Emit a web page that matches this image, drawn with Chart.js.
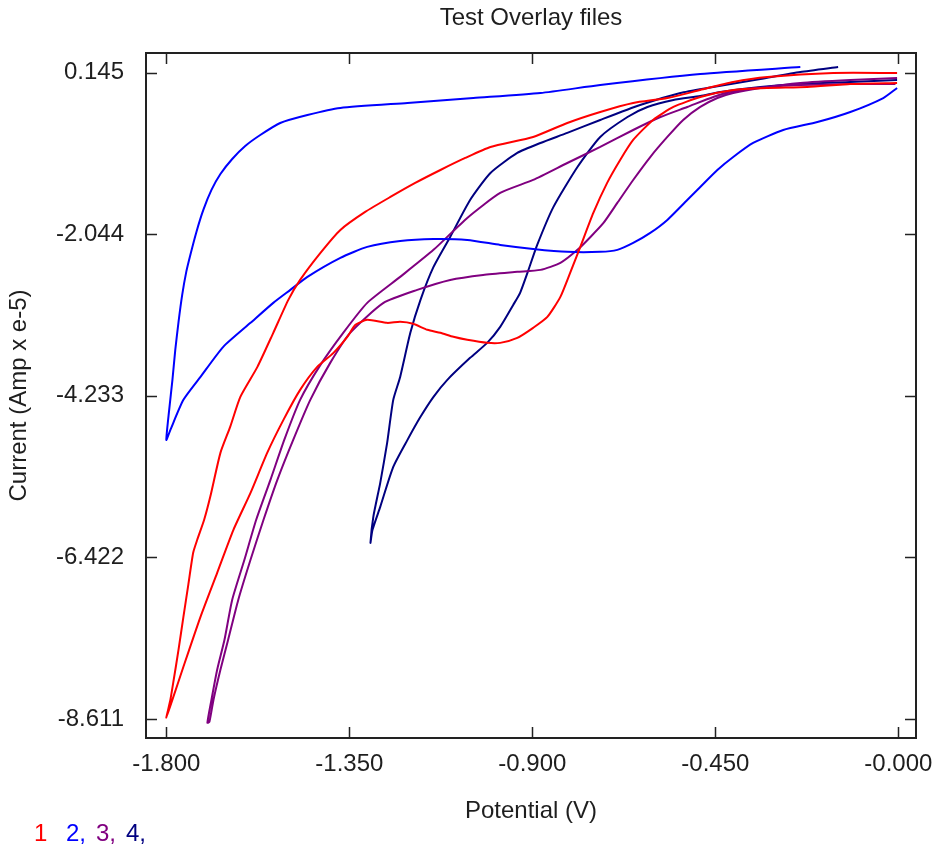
<!DOCTYPE html>
<html>
<head>
<meta charset="utf-8">
<script src="https://cdn.jsdelivr.net/npm/chart.js@4.4.0/dist/chart.umd.min.js"></script>
<style>
html, body { margin: 0; padding: 0; background: #ffffff; }
canvas { display: block; }
</style>
</head>
<body>
<canvas id="c" width="932" height="852"></canvas>
<script>
// ---------- texts ----------
const chartTitle = 'Test Overlay files';
const xAxisTitle = 'Potential (V)';
const yAxisTitle = 'Current (Amp x e-5)';
const seriesNames = ['1', '2,', '3,', '4,'];
const seriesColors = ['#ff0000', '#0000ff', '#800080', '#000080'];

// ---------- axes ----------
const xTickValues = [-1.8, -1.35, -0.9, -0.45, 0];
const xTickLabels = ['-1.800', '-1.350', '-0.900', '-0.450', '-0.000'];
const yTickValues = [0.145, -2.044, -4.233, -6.422, -8.611];
const yTickLabels = ['0.145', '-2.044', '-4.233', '-6.422', '-8.611'];
const xRange = [-1.85, 0.0435];
const yRange = [-8.868, 0.412];

// ---------- series 1 (red) : potential (V), current (Amp x e-5) ----------
const s1Potential = [-0.003,-0.118,-0.224,-0.322,-0.406,-0.487,-0.553,-0.603,-0.652,-0.684,-0.716,-0.750,-0.782,-0.807,-0.831,-0.863,-0.898,-0.937,-0.979,-1.011,-1.060,-1.094,-1.126,-1.158,-1.193,-1.225,-1.257,-1.306,-1.335,-1.355,-1.389,-1.429,-1.471,-1.512,-1.552,-1.593,-1.635,-1.675,-1.716,-1.758,-1.785,-1.800,
  -1.790,-1.783,-1.770,-1.758,-1.746,-1.734,-1.724,-1.707,-1.692,-1.667,-1.643,-1.618,-1.576,-1.537,-1.500,-1.471,-1.421,-1.372,-1.311,-1.249,-1.188,-1.126,-1.065,-1.003,-0.898,-0.814,-0.733,-0.652,-0.568,-0.487,-0.406,-0.322,-0.160,-0.003];
const s1Current = [0.006,-0.008,-0.049,-0.062,-0.089,-0.184,-0.319,-0.495,-0.766,-1.037,-1.348,-1.755,-2.215,-2.567,-2.892,-3.163,-3.311,-3.447,-3.515,-3.515,-3.474,-3.433,-3.379,-3.338,-3.257,-3.230,-3.244,-3.203,-3.271,-3.433,-3.650,-3.840,-4.152,-4.558,-5.005,-5.547,-6.048,-6.630,-7.226,-7.903,-8.349,-8.593,
  -8.349,-8.119,-7.672,-7.226,-6.793,-6.359,-6.183,-5.912,-5.601,-5.005,-4.653,-4.246,-3.840,-3.379,-2.932,-2.662,-2.296,-1.985,-1.741,-1.538,-1.348,-1.173,-1.010,-0.861,-0.725,-0.536,-0.387,-0.265,-0.198,-0.089,0.019,0.087,0.141,0.141];

// ---------- series 2 (blue) ----------
const s2Potential = [-0.003,-0.037,-0.118,-0.199,-0.283,-0.357,-0.406,-0.445,-0.487,-0.519,-0.568,-0.610,-0.652,-0.691,-0.733,-0.814,-0.898,-0.979,-1.060,-1.143,-1.225,-1.306,-1.372,-1.453,-1.495,-1.537,-1.593,-1.660,-1.716,-1.758,-1.790,-1.800,
  -1.793,-1.785,-1.778,-1.770,-1.761,-1.751,-1.741,-1.726,-1.709,-1.689,-1.667,-1.638,-1.606,-1.569,-1.520,-1.453,-1.372,-1.207,-1.045,-0.880,-0.733,-0.487,-0.241];
const s2Current = [-0.062,-0.198,-0.387,-0.523,-0.631,-0.807,-0.997,-1.173,-1.403,-1.579,-1.849,-2.025,-2.161,-2.255,-2.282,-2.282,-2.242,-2.188,-2.120,-2.107,-2.134,-2.215,-2.364,-2.621,-2.797,-2.973,-3.244,-3.569,-3.976,-4.287,-4.693,-4.829,
  -4.423,-4.016,-3.610,-3.230,-2.865,-2.553,-2.324,-2.012,-1.714,-1.443,-1.227,-1.024,-0.848,-0.699,-0.536,-0.428,-0.333,-0.265,-0.198,-0.130,-0.022,0.127,0.222];

// ---------- series 3 (purple) ----------
const s3Potential = [-0.003,-0.118,-0.241,-0.339,-0.406,-0.445,-0.487,-0.529,-0.568,-0.610,-0.652,-0.691,-0.725,-0.757,-0.789,-0.831,-0.880,-0.937,-1.021,-1.102,-1.183,-1.266,-1.348,-1.397,-1.446,-1.488,-1.527,-1.561,-1.593,-1.623,-1.648,-1.667,-1.684,-1.694,
  -1.699,-1.689,-1.675,-1.657,-1.638,-1.608,-1.579,-1.544,-1.510,-1.471,-1.421,-1.365,-1.306,-1.225,-1.143,-1.060,-0.979,-0.898,-0.814,-0.733,-0.652,-0.585,-0.519,-0.455,-0.406,-0.322,-0.241,-0.118,-0.007];
const s3Current = [0.073,0.046,0.006,-0.062,-0.130,-0.198,-0.319,-0.495,-0.725,-0.997,-1.308,-1.619,-1.890,-2.080,-2.255,-2.432,-2.526,-2.553,-2.594,-2.662,-2.797,-2.973,-3.379,-3.786,-4.287,-4.829,-5.371,-5.912,-6.454,-6.995,-7.537,-7.943,-8.349,-8.647,
  -8.661,-8.349,-7.943,-7.537,-6.995,-6.454,-5.912,-5.371,-4.829,-4.287,-3.813,-3.379,-2.973,-2.621,-2.255,-1.822,-1.484,-1.308,-1.078,-0.861,-0.631,-0.455,-0.319,-0.184,-0.103,-0.049,-0.022,-0.008,-0.008];

// ---------- series 4 (navy) ----------
const s4Potential = [-0.003,-0.118,-0.241,-0.339,-0.438,-0.487,-0.553,-0.617,-0.666,-0.733,-0.789,-0.848,-0.888,-0.912,-0.930,-0.947,-0.979,-1.011,-1.053,-1.109,-1.143,-1.175,-1.207,-1.242,-1.274,-1.293,-1.298,
  -1.291,-1.274,-1.257,-1.242,-1.225,-1.200,-1.175,-1.143,-1.102,-1.053,-1.003,-0.937,-0.880,-0.814,-0.733,-0.635,-0.536,-0.470,-0.339,-0.241,-0.148];
const s4Current = [0.046,0.019,-0.008,-0.049,-0.116,-0.171,-0.225,-0.319,-0.455,-0.725,-1.132,-1.673,-2.188,-2.567,-2.837,-3.001,-3.298,-3.515,-3.718,-4.016,-4.246,-4.517,-4.829,-5.195,-5.736,-6.048,-6.224,
  -5.872,-5.411,-4.869,-4.287,-3.976,-3.379,-2.932,-2.486,-2.080,-1.579,-1.213,-0.942,-0.807,-0.671,-0.495,-0.292,-0.130,-0.062,0.060,0.154,0.222];

// ---------- build ----------
const seriesPotential = [s1Potential, s2Potential, s3Potential, s4Potential];
const seriesCurrent = [s1Current, s2Current, s3Current, s4Current];

const TEXT_COLOR = '#1e1e1e';
const FONT_FAMILY = "'Liberation Sans', Arial, Helvetica, sans-serif";
const FONT = { family: FONT_FAMILY, size: 24, weight: 'normal' };

function labelFor(values, labels, v) {
  let best = 0;
  for (let i = 1; i < values.length; i++) {
    if (Math.abs(values[i] - v) < Math.abs(values[best] - v)) best = i;
  }
  return labels[best];
}

const datasets = seriesPotential.map((xs, s) => ({
  label: seriesNames[s],
  data: xs.map((x, i) => ({ x: x, y: seriesCurrent[s][i] })),
  borderColor: seriesColors[s],
  backgroundColor: seriesColors[s],
  borderWidth: 2,
  pointRadius: 0,
  pointHoverRadius: 0,
  showLine: true,
  fill: false,
  tension: 0.2
}));

const framePlugin = {
  id: 'frameTicks',
  afterDatasetsDraw(chart) {
    const ctx = chart.ctx;
    const a = chart.chartArea;
    const xs = chart.scales.x, ys = chart.scales.y;
    const L = 11;
    ctx.save();
    ctx.strokeStyle = '#222222';
    ctx.lineWidth = 2;
    ctx.strokeRect(a.left, a.top, a.right - a.left, a.bottom - a.top);
    ctx.lineWidth = 1.5;
    ctx.beginPath();
    xTickValues.forEach(v => {
      const p = Math.round(xs.getPixelForValue(v)) + 0.5;
      ctx.moveTo(p, a.top); ctx.lineTo(p, a.top + L);
      ctx.moveTo(p, a.bottom); ctx.lineTo(p, a.bottom - L);
    });
    yTickValues.forEach(v => {
      const p = Math.round(ys.getPixelForValue(v)) + 0.5;
      ctx.moveTo(a.left, p); ctx.lineTo(a.left + L, p);
      ctx.moveTo(a.right, p); ctx.lineTo(a.right - L, p);
    });
    ctx.stroke();
    ctx.restore();
  }
};

const legendPlugin = {
  id: 'seriesLegend',
  afterDraw(chart) {
    const ctx = chart.ctx;
    const offsets = [34, 66, 96, 126];
    ctx.save();
    ctx.font = '24px ' + FONT_FAMILY;
    ctx.textBaseline = 'middle';
    ctx.textAlign = 'left';
    seriesNames.forEach((t, i) => {
      ctx.fillStyle = seriesColors[i];
      ctx.fillText(t, offsets[i], 834);
    });
    ctx.restore();
  }
};

new Chart(document.getElementById('c'), {
  type: 'scatter',
  data: { datasets: datasets },
  plugins: [framePlugin, legendPlugin],
  options: {
    responsive: false,
    devicePixelRatio: 1,
    animation: false,
    layout: { padding: { left: 0, right: 16, top: 0, bottom: 0 } },
    plugins: {
      legend: { display: false },
      tooltip: { enabled: false },
      title: {
        display: true,
        text: chartTitle,
        fullSize: false,
        color: TEXT_COLOR,
        font: FONT,
        padding: { top: 3.6, bottom: 20.6 }
      }
    },
    scales: {
      x: {
        type: 'linear',
        min: xRange[0],
        max: xRange[1],
        afterBuildTicks: s => { s.ticks = xTickValues.map(v => ({ value: v })); },
        afterFit: s => { s.height = 114; s.paddingLeft = 0; s.paddingRight = 0; },
        ticks: {
          autoSkip: false, maxRotation: 0, minRotation: 0, padding: 12,
          color: TEXT_COLOR, font: FONT,
          callback: v => labelFor(xTickValues, xTickLabels, v)
        },
        grid: { display: false, drawTicks: false },
        border: { display: false },
        title: { display: true, text: xAxisTitle, color: TEXT_COLOR, font: FONT, padding: { top: 0, bottom: 26 } }
      },
      y: {
        type: 'linear',
        min: yRange[0],
        max: yRange[1],
        afterBuildTicks: s => { s.ticks = yTickValues.map(v => ({ value: v })); },
        afterFit: s => { s.width = 146; s.paddingTop = 0; s.paddingBottom = 0; },
        ticks: {
          autoSkip: false, padding: 22,
          color: TEXT_COLOR, font: FONT,
          callback: v => labelFor(yTickValues, yTickLabels, v)
        },
        grid: { display: false, drawTicks: false },
        border: { display: false },
        title: { display: true, text: yAxisTitle, color: TEXT_COLOR, font: FONT, padding: { top: 4.6, bottom: 0 } }
      }
    }
  }
});
</script>
</body>
</html>
